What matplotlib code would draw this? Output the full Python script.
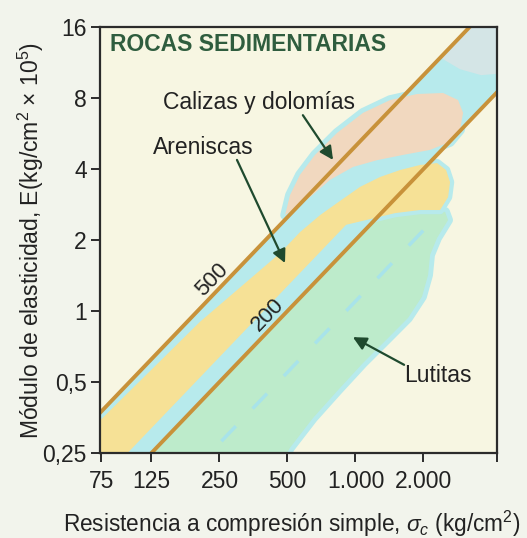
import numpy as np
import matplotlib
matplotlib.use("Agg")
import matplotlib.pyplot as plt
from matplotlib.patches import Polygon

plt.rcParams["font.family"] = ["Liberation Sans", "DejaVu Sans"]
plt.rcParams["mathtext.fontset"] = "custom"
plt.rcParams["mathtext.rm"] = "Liberation Sans"
plt.rcParams["mathtext.it"] = "Liberation Sans:italic"

# ----------------------------
# Data (sigma_c in kg/cm2, E in 10^5 kg/cm2)
# ----------------------------
x_ticks = [75, 125, 250, 500, 1000, 2000]
x_labels = ["75", "125", "250", "500", "1.000", "2.000"]
y_ticks = [0.25, 0.5, 1, 2, 4, 8, 16]
y_labels = ["0,25", "0,5", "1", "2", "4", "8", "16"]

# modulus ratio lines  E / sigma_c
ratios = [500, 200]
ratio_sc = np.array([50.0, 6000.0])

# region outlines
calizas_sc = [488, 513, 568, 662, 829, 1080, 1422, 1874, 2442, 2845,
              2994, 2903, 2622, 2139, 1624, 1246, 975, 772, 629, 529]
calizas_e = [2.55, 3.10, 3.78, 4.59, 5.69, 6.92, 7.84, 8.32, 8.40, 7.84,
             6.92, 5.86, 5.21, 4.82, 4.59, 4.36, 4.08, 3.60, 3.04, 2.68]

areniscas_sc = [70, 205, 464, 568, 697, 829, 1048, 1285, 1575, 1931,
                2297, 2518, 2622, 2570, 2368, 1931, 1497, 909, 70]
areniscas_e = [0.326, 0.90, 1.76, 2.16, 2.55, 2.87, 3.36, 3.70, 3.96, 4.16,
               4.24, 3.96, 3.52, 3.04, 2.68, 2.68, 2.60, 2.32, 0.1785]

lutitas_sc = [100, 1300, 1931, 2493, 2570, 2297, 2139, 2096, 1970, 1708,
              1394, 1080, 837, 649, 513, 478, 470]
lutitas_e = [0.20, 2.60, 2.73, 2.63, 2.43, 2.04, 1.73, 1.42, 1.15, 0.934,
             0.768, 0.602, 0.462, 0.352, 0.263, 0.233, 0.20]
lutitas_streak = 110

top_sc = [3450, 4600, 4600, 3600, 2900, 2400]
top_e = [17, 17, 10.2, 10.0, 10.6, 11.8]

# colours
fig_bg = "#F2F4EC"
ax_bg = "#F7F6E2"
cyan = "#B7EAEC"
green = "#BDEBCB"
yellow = "#F6E196"
peach = "#F1D8BF"
grayblue = "#D4E5E6"
line_col = "#C8923A"
dark = "#222222"
title_col = "#2F5D3E"
arrow_col = "#1F4A2E"

fig = plt.figure(figsize=(5.27, 5.38), dpi=100, facecolor=fig_bg)
ax = fig.add_axes([100 / 527, 85 / 538, 397 / 527, 426 / 538])
ax.set_facecolor(ax_bg)
ax.set_xscale("log")
ax.set_yscale("log")
ax.set_xlim(74, 4230)
ax.set_ylim(0.25, 16)

# band between the two ratio lines
ax.fill_between(ratio_sc, ratio_sc * ratios[1] / 1e5, ratio_sc * ratios[0] / 1e5,
                color=cyan, lw=0, zorder=1)
ax.add_patch(Polygon(list(zip(top_sc, top_e)), closed=True, fc=grayblue,
                     lw=0, zorder=1.2))


def region(xs, ys, fill, z, halo=7):
    pts = list(zip(xs, ys))
    ax.add_patch(Polygon(pts, closed=True, fc=cyan, ec=cyan, lw=halo,
                         joinstyle="round", zorder=z))
    p = Polygon(pts, closed=True, fc=fill, lw=0, zorder=z + 0.1)
    ax.add_patch(p)
    return p


green_patch = region(lutitas_sc, lutitas_e, green, 1.5)
streak, = ax.plot(ratio_sc, ratio_sc * lutitas_streak / 1e5, color="#A8E3EA",
                  lw=2.5, dashes=(6, 7), zorder=1.65)
streak.set_clip_path(green_patch)
region(areniscas_sc, areniscas_e, yellow, 1.8, halo=6)
region(calizas_sc, calizas_e, peach, 2.1)

for r in ratios:
    ax.plot(ratio_sc, ratio_sc * r / 1e5, color=line_col, lw=2.8,
            solid_capstyle="butt", zorder=3)

# axes styling
for s in ax.spines.values():
    s.set_color("#2B2B2B")
    s.set_linewidth(1.6)
    s.set_zorder(4)

ax.set_xticks(x_ticks + [4230])
ax.set_xticklabels(x_labels + [""])
ax.set_yticks(y_ticks)
ax.set_yticklabels(y_labels)
ax.minorticks_off()
ax.tick_params(direction="out", length=6.5, width=1.4, color="#2B2B2B",
               labelsize=16.5, labelcolor=dark, pad=3)
ax.tick_params(axis="x", pad=6)

# texts
ax.text(0.025, 0.959, "ROCAS SEDIMENTARIAS", transform=ax.transAxes,
        fontsize=16.5, fontweight="bold", color=title_col, ha="left", va="center",
        zorder=5)
ax.text(0.159, 0.822, "Calizas y dolomías", transform=ax.transAxes,
        fontsize=16.5, color=dark, ha="left", va="center", zorder=5)
ax.text(0.134, 0.716, "Areniscas", transform=ax.transAxes,
        fontsize=16.5, color=dark, ha="left", va="center", zorder=5)
ax.text(0.766, 0.183, "Lutitas", transform=ax.transAxes,
        fontsize=16.5, color=dark, ha="left", va="center", zorder=5)
ax.text(0.282, 0.406, "500", transform=ax.transAxes, rotation=46,
        fontsize=16, color=dark, ha="center", va="center", zorder=5)
ax.text(0.423, 0.324, "200", transform=ax.transAxes, rotation=46,
        fontsize=16, color=dark, ha="center", va="center", zorder=5)

arrows = [((0.511, 0.793), (0.587, 0.688)),
          ((0.345, 0.688), (0.466, 0.446)),
          ((0.766, 0.207), (0.637, 0.272))]
for tail, tip in arrows:
    ax.annotate("", xy=tip, xytext=tail, xycoords="axes fraction",
                textcoords="axes fraction", zorder=5,
                arrowprops=dict(arrowstyle="-|>", color=arrow_col, lw=1.6,
                                mutation_scale=20, shrinkA=0, shrinkB=0))

fig.text(31 / 527, 1 - 240 / 538,
         "Módulo de elasticidad, E(kg/cm$^2$ × 10$^5$)",
         rotation=90, fontsize=16.5, color=dark, ha="center", va="center")
fig.text(63 / 527, 1 - 524 / 538,
         r"Resistencia a compresión simple, $\sigma_c$ (kg/cm$^2$)",
         fontsize=16.3, color=dark, ha="left", va="center")

fig.savefig("out.png", dpi=100, facecolor=fig_bg)
